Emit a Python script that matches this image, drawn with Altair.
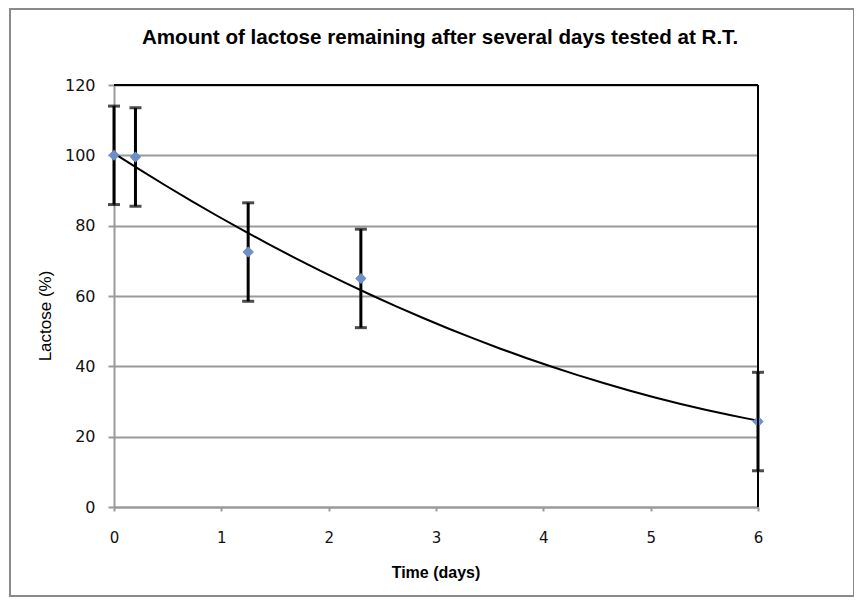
import altair as alt
import pandas as pd

# ---- data ----
days = [0, 0.2, 1.25, 2.3, 6]
lactose = [100, 99.5, 72.5, 65, 24.3]
error = [14, 14, 14, 14, 14]
x_ticks = [0, 1, 2, 3, 4, 5, 6]
y_ticks = [0, 20, 40, 60, 80, 100, 120]
title_text = "Amount of lactose remaining after several days tested at R.T."
x_title = "Time (days)"
y_title = "Lactose (%)"

df = pd.DataFrame({
    "days": days,
    "lactose": lactose,
    "lo": [v - e for v, e in zip(lactose, error)],
    "hi": [v + e for v, e in zip(lactose, error)],
})

W, H = 644, 422
FONT = "Liberation Sans"
LFONT = "DejaVu Sans"
GRAY = "#9a9a9a"

xs = alt.Scale(domain=[0, 6], nice=False, zero=False)
ys = alt.Scale(domain=[0, 120], nice=False)

x_axis = alt.Axis(values=x_ticks, title=None, grid=False, format="d", labelFlush=False,
                  domainColor=GRAY, domainWidth=2, tickColor=GRAY, tickWidth=2,
                  tickSize=4, labelPadding=19, labelFontSize=15, labelColor="#111",
                  labelFont=LFONT)
y_axis = alt.Axis(values=y_ticks, title=None, grid=True, gridColor=GRAY, gridWidth=2,
                  labelFlush=False,
                  domainColor=GRAY, domainWidth=2, tickColor=GRAY, tickWidth=2,
                  tickSize=6, labelPadding=13, labelFontSize=16, labelColor="#111",
                  labelFont=LFONT)

base = alt.Chart(df)

points_axes = base.mark_point(shape="diamond", filled=True, size=120, color="#6d90c8", opacity=1).encode(
    x=alt.X("days:Q", scale=xs, axis=x_axis),
    y=alt.Y("lactose:Q", scale=ys, axis=y_axis),
)

trend = base.transform_regression("days", "lactose", method="poly", order=2, extent=[0, 6]).mark_line(
    color="black", strokeWidth=2).encode(
    x=alt.X("days:Q", scale=xs), y=alt.Y("lactose:Q", scale=ys))

bars = base.mark_rule(color="black", strokeWidth=3).encode(
    x=alt.X("days:Q", scale=xs), y=alt.Y("lo:Q", scale=ys), y2="hi:Q")
cap_lo = base.mark_tick(color="black", orient="horizontal", size=12, thickness=3).encode(
    x=alt.X("days:Q", scale=xs), y=alt.Y("lo:Q", scale=ys))
cap_hi = base.mark_tick(color="black", orient="horizontal", size=12, thickness=3).encode(
    x=alt.X("days:Q", scale=xs), y=alt.Y("hi:Q", scale=ys))

one = alt.Chart(pd.DataFrame({"k": [0]}))
top_border = one.mark_rule(color="black", strokeWidth=2).encode(
    x=alt.value(0), x2=alt.value(W), y=alt.value(0))
right_border = one.mark_rule(color="black", strokeWidth=2).encode(
    x=alt.value(W), y=alt.value(0), y2=alt.value(H))
outer = one.mark_rect(fillOpacity=0, stroke="#8a8a8a", strokeWidth=2).encode(
    x=alt.value(-104), x2=alt.value(740), y=alt.value(-76), y2=alt.value(511))

title_df = pd.DataFrame({"t": [title_text]})
xt_df = pd.DataFrame({"t": [x_title]})
yt_df = pd.DataFrame({"t": [y_title]})

title_mark = alt.Chart(title_df).mark_text(
    font=FONT, fontSize=20.6, fontWeight="bold", color="#000", align="center", baseline="alphabetic"
).encode(text="t:N", x=alt.value(326), y=alt.value(-41))
xt_mark = alt.Chart(xt_df).mark_text(
    font=FONT, fontSize=16, fontWeight="bold", color="#000", align="center", baseline="alphabetic"
).encode(text="t:N", x=alt.value(322), y=alt.value(493))
yt_mark = alt.Chart(yt_df).mark_text(
    font=FONT, fontSize=17, fontWeight="normal", color="#000", align="center",
    baseline="alphabetic", angle=270
).encode(text="t:N", x=alt.value(-63), y=alt.value(231))

chart = alt.layer(outer, points_axes, trend, bars, cap_lo, cap_hi, points_axes.encode(),
                  top_border, right_border, title_mark, xt_mark, yt_mark).properties(
    width=W, height=H,
    padding={"left": 106, "top": 77, "right": 96, "bottom": 92},
    autosize=alt.AutoSizeParams(type="none"),
).configure_view(stroke=None).configure(background="white")

chart.save("out.html", embed_options={"renderer": "svg", "actions": False})
